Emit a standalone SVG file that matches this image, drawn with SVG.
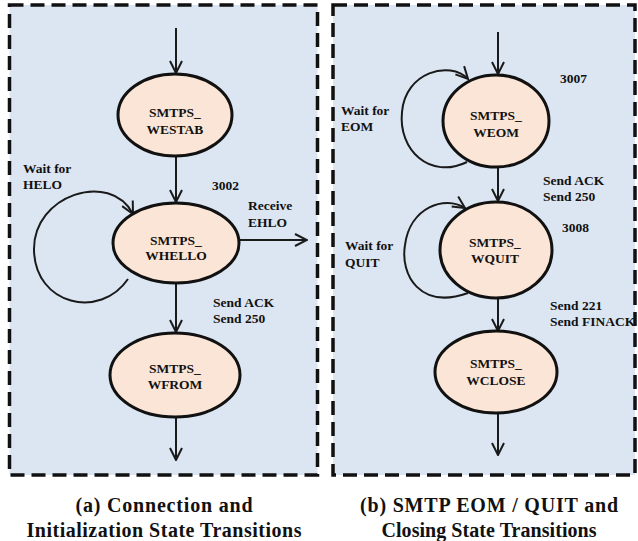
<svg xmlns="http://www.w3.org/2000/svg" width="638" height="541" viewBox="0 0 638 541">
<style>
.panel{fill:#dce6f2;stroke:#111;stroke-width:3.5;stroke-dasharray:14 7}
.node{fill:#fbe5d6;stroke:#111;stroke-width:3}
.edge{fill:none;stroke:#1a1a1a;stroke-width:2}
.nt{font-family:"Times New Roman","Liberation Serif",Tinos,serif;font-weight:bold;font-size:13.5px;fill:#111;text-anchor:middle}
.lb{font-family:"Times New Roman","Liberation Serif",Tinos,serif;font-weight:bold;font-size:13.5px;fill:#111}
.cap{font-family:"Times New Roman","Liberation Serif",Tinos,serif;font-weight:bold;font-size:20px;fill:#111;text-anchor:middle}
</style>
<defs>
<marker id="ah" viewBox="0 0 14 14" refX="13" refY="7" markerWidth="14" markerHeight="14" orient="auto" markerUnits="userSpaceOnUse">
<path d="M1,1 L13,7 L1,13" fill="none" stroke="#1a1a1a" stroke-width="2"/>
</marker>
</defs>
<rect width="638" height="541" fill="#fff"/>
<g id="panel-a"><rect class="panel" x="9.5" y="5" width="308" height="470"/></g>
<g id="panel-b"><rect class="panel" x="333" y="5" width="302" height="470"/></g>

<g id="connectors">
<line class="edge" x1="176" y1="28" x2="176" y2="73" marker-end="url(#ah)"/>
<line class="edge" x1="176" y1="157" x2="176" y2="202" marker-end="url(#ah)"/>
<line class="edge" x1="239" y1="240" x2="307" y2="240" marker-end="url(#ah)"/>
<line class="edge" x1="176" y1="284" x2="176" y2="332" marker-end="url(#ah)"/>
<line class="edge" x1="176" y1="418" x2="176" y2="460" marker-end="url(#ah)"/>
<path class="edge" d="M 128 279 C 100 320, 35 305, 34 250 C 33 195, 110 170, 133 214" marker-end="url(#ah)"/>
<line class="edge" x1="498" y1="32" x2="498" y2="74" marker-end="url(#ah)"/>
<line class="edge" x1="498" y1="168" x2="498" y2="201" marker-end="url(#ah)"/>
<line class="edge" x1="498" y1="298" x2="498" y2="331" marker-end="url(#ah)"/>
<line class="edge" x1="498" y1="414" x2="498" y2="455" marker-end="url(#ah)"/>
<path class="edge" d="M 467 162 C 430 180, 398 150, 402 112 C 405 72, 450 60, 468 79" marker-end="url(#ah)"/>
<path class="edge" d="M 468 293 C 420 310, 400 275, 405 245 C 410 207, 445 195, 465 208" marker-end="url(#ah)"/>
</g>

<g id="WESTAB">
<ellipse class="node" cx="175" cy="115" rx="57" ry="41"/>
<text class="nt" x="175" y="117">SMTPS_</text>
<text class="nt" x="175" y="134">WESTAB</text>
</g>
<g id="WHELLO">
<ellipse class="node" cx="176" cy="243" rx="63" ry="40"/>
<text class="nt" x="176" y="245">SMTPS_</text>
<text class="nt" x="176" y="260">WHELLO</text>
</g>
<g id="WFROM">
<ellipse class="node" cx="175" cy="375" rx="65" ry="42"/>
<text class="nt" x="175" y="373">SMTPS_</text>
<text class="nt" x="175" y="389">WFROM</text>
</g>
<g id="WEOM">
<ellipse class="node" cx="496" cy="121" rx="53" ry="46"/>
<text class="nt" x="496" y="120">SMTPS_</text>
<text class="nt" x="496" y="137">WEOM</text>
</g>
<g id="WQUIT">
<ellipse class="node" cx="496" cy="250" rx="56" ry="48"/>
<text class="nt" x="495" y="247">SMTPS_</text>
<text class="nt" x="495" y="263">WQUIT</text>
</g>
<g id="WCLOSE">
<ellipse class="node" cx="496" cy="372" rx="61" ry="41"/>
<text class="nt" x="496" y="368">SMTPS_</text>
<text class="nt" x="496" y="385">WCLOSE</text>
</g>

<g id="labels">
<text class="lb" x="23" y="173">Wait for</text>
<text class="lb" x="23" y="189">HELO</text>
<text class="lb" x="212" y="190">3002</text>
<text class="lb" x="248" y="210">Receive</text>
<text class="lb" x="248" y="227">EHLO</text>
<text class="lb" x="213" y="307">Send ACK</text>
<text class="lb" x="213" y="323">Send 250</text>
<text class="lb" x="560" y="83">3007</text>
<text class="lb" x="341" y="115">Wait for</text>
<text class="lb" x="341" y="131">EOM</text>
<text class="lb" x="543" y="185">Send ACK</text>
<text class="lb" x="543" y="201">Send 250</text>
<text class="lb" x="562" y="232">3008</text>
<text class="lb" x="345" y="250">Wait for</text>
<text class="lb" x="345" y="267">QUIT</text>
<text class="lb" x="550" y="310">Send 221</text>
<text class="lb" x="550" y="326">Send FINACK</text>
<text class="cap" x="164" y="512" textLength="177" lengthAdjust="spacing">(a)  Connection and</text>
<text class="cap" x="164" y="537" textLength="275" lengthAdjust="spacing">Initialization State Transitions</text>
<text class="cap" x="489" y="512" textLength="258" lengthAdjust="spacing">(b) SMTP EOM / QUIT and</text>
<text class="cap" x="489" y="537" textLength="215" lengthAdjust="spacing">Closing State Transitions</text>
</g>
</svg>
